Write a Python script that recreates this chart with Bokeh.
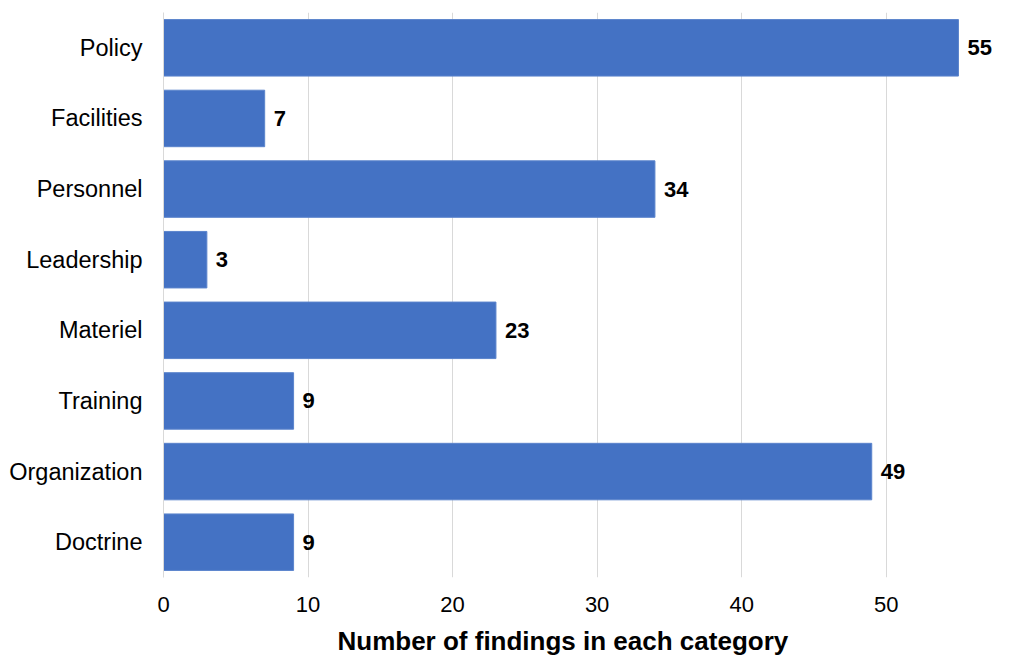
from bokeh.plotting import figure
from bokeh.models import ColumnDataSource, LabelSet, Range1d, FixedTicker, Title
from bokeh.core.properties import value
from bokeh.embed import file_html
from bokeh.resources import INLINE

categories = ["Doctrine", "Organization", "Training", "Materiel",
              "Leadership", "Personnel", "Facilities", "Policy"]
counts = [9, 49, 9, 23, 3, 34, 7, 55]
x_ticks = [0, 10, 20, 30, 40, 50]

src = ColumnDataSource(dict(cat=categories, val=counts,
                            lbl=[str(v) for v in counts]))

p = figure(width=1019, height=664, y_range=categories,
           x_range=Range1d(0, 58.6), output_backend="svg",
           toolbar_location=None,
           min_border_left=163, min_border_right=9,
           min_border_top=12, min_border_bottom=86)

p.hbar(y="cat", right="val", left=0, height=0.8, source=src,
       fill_color="#4472C4", line_color="#5b84cc", line_width=1)

labels = LabelSet(x="val", y="cat", text="lbl", source=src,
                  x_offset=9, text_baseline="middle", text_align="left",
                  text_font=value("Liberation Sans"), text_font_style="bold",
                  text_font_size="22px", text_color="#000000")
p.add_layout(labels)

p.outline_line_color = None
p.ygrid.grid_line_color = None
p.xgrid.grid_line_color = "#d9d9d9"
p.xgrid.grid_line_width = 1
p.xaxis.ticker = FixedTicker(ticks=x_ticks)

for ax in (p.xaxis[0], p.yaxis[0]):
    ax.major_tick_line_color = None
    ax.minor_tick_line_color = None
    ax.major_label_text_font = "Liberation Sans"
    ax.major_label_text_color = "#000000"

p.xaxis.axis_line_color = None
p.yaxis.axis_line_color = "#d9d9d9"
p.xaxis.major_label_text_font_size = "22px"
p.yaxis.major_label_text_font_size = "23.5px"
p.xaxis.major_label_standoff = 13
p.yaxis.major_label_standoff = 15

xtitle = Title(text="Number of findings in each category", align="left",
               offset=174, text_font="Liberation Sans", text_font_style="bold",
               text_font_size="26px", text_color="#000000", standoff=18)
p.add_layout(xtitle, "below")

open("out.html", "w").write(file_html(p, INLINE))
